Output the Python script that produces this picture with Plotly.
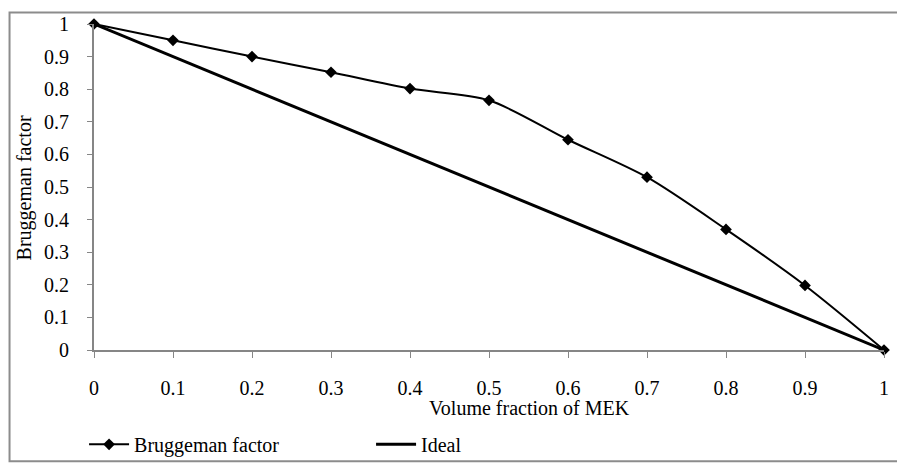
import plotly.graph_objects as go

x_vals = [0, 0.1, 0.2, 0.3, 0.4, 0.5, 0.6, 0.7, 0.8, 0.9, 1]
bruggeman = [1.0, 0.95, 0.90, 0.852, 0.802, 0.766, 0.645, 0.53, 0.37, 0.198, 0.0]
ideal = [1.0, 0.9, 0.8, 0.7, 0.6, 0.5, 0.4, 0.3, 0.2, 0.1, 0.0]
x_ticks = [0, 0.1, 0.2, 0.3, 0.4, 0.5, 0.6, 0.7, 0.8, 0.9, 1]
x_ticktext = ["0", "0.1", "0.2", "0.3", "0.4", "0.5", "0.6", "0.7", "0.8", "0.9", "1"]
y_ticks = [0, 0.1, 0.2, 0.3, 0.4, 0.5, 0.6, 0.7, 0.8, 0.9, 1]
y_ticktext = ["0", "0.1", "0.2", "0.3", "0.4", "0.5", "0.6", "0.7", "0.8", "0.9", "1"]

FONT = "Liberation Serif"
FS = 20
AXC = "#868686"

W, H = 897, 472
L, R, T, B = 94, 8, 24, 108
pw, ph = W - L - R, H - T - B

def px_x(p):
    return (p - L) / pw

def px_y(p):
    return (H - B - p) / ph

fig = go.Figure()
fig.add_trace(go.Scatter(
    x=x_vals, y=bruggeman, name="Bruggeman factor", mode="lines+markers",
    line=dict(color="black", width=2, shape="spline", smoothing=0.8),
    marker=dict(symbol="diamond", size=9, color="black"),
    cliponaxis=False,
))
fig.add_trace(go.Scatter(
    x=x_vals, y=ideal, name="Ideal", mode="lines",
    line=dict(color="black", width=3),
    cliponaxis=False,
))

fig.update_layout(
    width=W, height=H,
    margin=dict(l=L, r=R, t=T, b=B, pad=0),
    paper_bgcolor="white", plot_bgcolor="white",
    font=dict(family=FONT, size=FS, color="black"),
    showlegend=True,
    legend=dict(
        orientation="h", x=px_x(84), y=px_y(442), xanchor="left", yanchor="top",
        entrywidth=232, entrywidthmode="pixels",
        font=dict(family=FONT, size=FS, color="black"),
        bgcolor="rgba(0,0,0,0)", itemwidth=40,
        tracegroupgap=0,
    ),
    xaxis=dict(
        range=[0, 1], tickvals=x_ticks, ticktext=x_ticktext,
        showgrid=False, zeroline=False, showline=True, linecolor=AXC, linewidth=2,
        ticks="outside", ticklen=6, tickcolor=AXC, tickwidth=1,
        ticklabelstandoff=13, tickfont=dict(family=FONT, size=FS),
    ),
    yaxis=dict(
        range=[0, 1], tickvals=y_ticks, ticktext=y_ticktext,
        showgrid=False, zeroline=False, showline=True, linecolor=AXC, linewidth=2,
        ticks="outside", ticklen=5, tickcolor=AXC, tickwidth=1,
        ticklabelstandoff=14, tickfont=dict(family=FONT, size=FS),
    ),
    annotations=[
        dict(text="Volume fraction of MEK", xref="paper", yref="paper",
             x=px_x(532), y=px_y(425), xanchor="center", yanchor="middle",
             showarrow=False, font=dict(family=FONT, size=FS)),
        dict(text="Bruggeman factor", xref="paper", yref="paper",
             x=px_x(25), y=px_y(195), xanchor="center", yanchor="middle",
             textangle=-90, showarrow=False, font=dict(family=FONT, size=FS)),
    ],
    shapes=[
        dict(type="rect", xref="paper", yref="paper",
             x0=px_x(9), x1=px_x(905), y0=px_y(480), y1=px_y(12),
             line=dict(color="#8c8c8c", width=2), fillcolor="rgba(0,0,0,0)",
             layer="below"),
    ],
)

fig.write_html("out.html")
